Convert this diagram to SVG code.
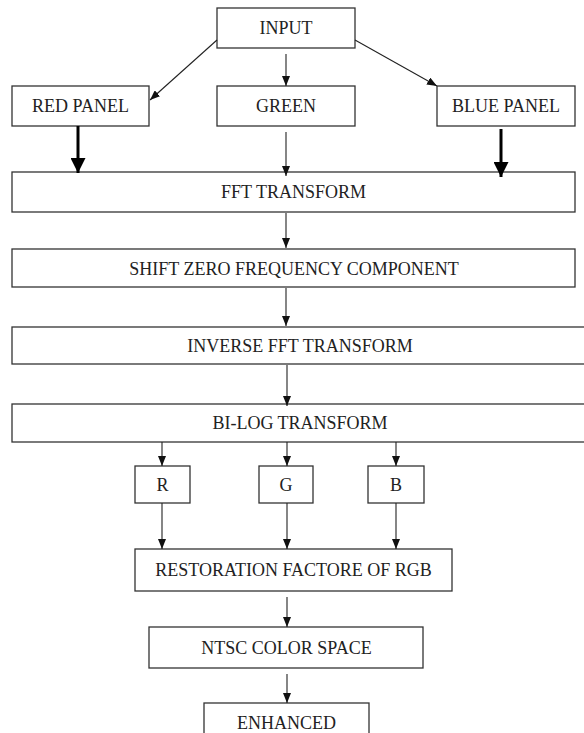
<svg xmlns="http://www.w3.org/2000/svg" width="584" height="733" viewBox="0 0 584 733">
<style>
.box{fill:#fff;stroke:#333;stroke-width:1.3}
.lbl{font-family:"Liberation Serif","DejaVu Serif","Times New Roman",serif;font-size:18px;fill:#222;text-anchor:middle}
.ln{stroke:#222;stroke-width:1.1;fill:none}
.thick{stroke:#000;stroke-width:3;fill:none}
</style>
<defs>
<marker id="ah" markerUnits="userSpaceOnUse" markerWidth="10" markerHeight="8" refX="10" refY="4" orient="auto">
<path d="M0,0 L10,4 L0,8 z" fill="#111"/>
</marker>
<marker id="ahb" markerUnits="userSpaceOnUse" markerWidth="15" markerHeight="15" refX="15" refY="7.5" orient="auto">
<path d="M0,0 L15,7.5 L0,15 z" fill="#000"/>
</marker>
</defs>
<rect width="584" height="733" fill="#fff"/>
<g id="input"><rect class="box" x="217" y="8" width="138" height="40"/><text class="lbl" x="286" y="34">INPUT</text></g>
<g id="red"><rect class="box" x="12" y="86" width="137" height="40"/><text class="lbl" x="80.5" y="112">RED PANEL</text></g>
<g id="green"><rect class="box" x="217" y="86" width="138" height="40"/><text class="lbl" x="286" y="112">GREEN</text></g>
<g id="blue"><rect class="box" x="437" y="86" width="138" height="40"/><text class="lbl" x="506" y="112">BLUE PANEL</text></g>
<g id="fft"><rect class="box" x="12" y="172" width="563" height="40"/><text class="lbl" x="293.5" y="198">FFT TRANSFORM</text></g>
<g id="shift"><rect class="box" x="12" y="249" width="563" height="38"/><text class="lbl" x="294" y="275">SHIFT ZERO FREQUENCY COMPONENT</text></g>
<g id="inverse"><rect class="box" x="12" y="327" width="578" height="37"/><text class="lbl" x="300" y="352">INVERSE FFT TRANSFORM</text></g>
<g id="bilog"><rect class="box" x="12" y="404" width="578" height="38"/><text class="lbl" x="300" y="429">BI-LOG TRANSFORM</text></g>
<g id="r"><rect class="box" x="135" y="466" width="55" height="37"/><text class="lbl" x="162.5" y="491">R</text></g>
<g id="g"><rect class="box" x="259" y="466" width="54" height="37"/><text class="lbl" x="286" y="491">G</text></g>
<g id="b"><rect class="box" x="368" y="466" width="56" height="37"/><text class="lbl" x="396" y="491">B</text></g>
<g id="restoration"><rect class="box" x="135" y="549" width="317" height="42"/><text class="lbl" x="293.5" y="576">RESTORATION FACTORE OF RGB</text></g>
<g id="ntsc"><rect class="box" x="149" y="627" width="274" height="41"/><text class="lbl" x="286.5" y="654">NTSC COLOR SPACE</text></g>
<g id="enhanced"><rect class="box" x="204" y="703" width="165" height="40"/><text class="lbl" x="286.5" y="729">ENHANCED</text></g>
<g id="connectors">
<line class="ln" x1="217" y1="40" x2="150" y2="100" marker-end="url(#ah)"/>
<line class="ln" x1="355" y1="40" x2="437" y2="86" marker-end="url(#ah)"/>
<line class="ln" x1="286" y1="54" x2="286" y2="86" marker-end="url(#ah)"/>
<line class="thick" x1="78" y1="126" x2="78" y2="173" marker-end="url(#ahb)"/>
<line class="thick" x1="501" y1="129" x2="501" y2="177" marker-end="url(#ahb)"/>
<line class="ln" x1="286" y1="132" x2="286" y2="176" marker-end="url(#ah)"/>
<line class="ln" x1="286" y1="213" x2="286" y2="248" marker-end="url(#ah)"/>
<line class="ln" x1="286" y1="288" x2="286" y2="326" marker-end="url(#ah)"/>
<line class="ln" x1="287" y1="365" x2="287" y2="406" marker-end="url(#ah)"/>
<line class="ln" x1="162" y1="442" x2="162" y2="466" marker-end="url(#ah)"/>
<line class="ln" x1="287" y1="442" x2="287" y2="466" marker-end="url(#ah)"/>
<line class="ln" x1="396" y1="442" x2="396" y2="466" marker-end="url(#ah)"/>
<line class="ln" x1="162" y1="503" x2="162" y2="549" marker-end="url(#ah)"/>
<line class="ln" x1="287" y1="503" x2="287" y2="549" marker-end="url(#ah)"/>
<line class="ln" x1="396" y1="503" x2="396" y2="549" marker-end="url(#ah)"/>
<line class="ln" x1="287" y1="597" x2="287" y2="627" marker-end="url(#ah)"/>
<line class="ln" x1="287" y1="674" x2="287" y2="703" marker-end="url(#ah)"/>
</g>
</svg>
